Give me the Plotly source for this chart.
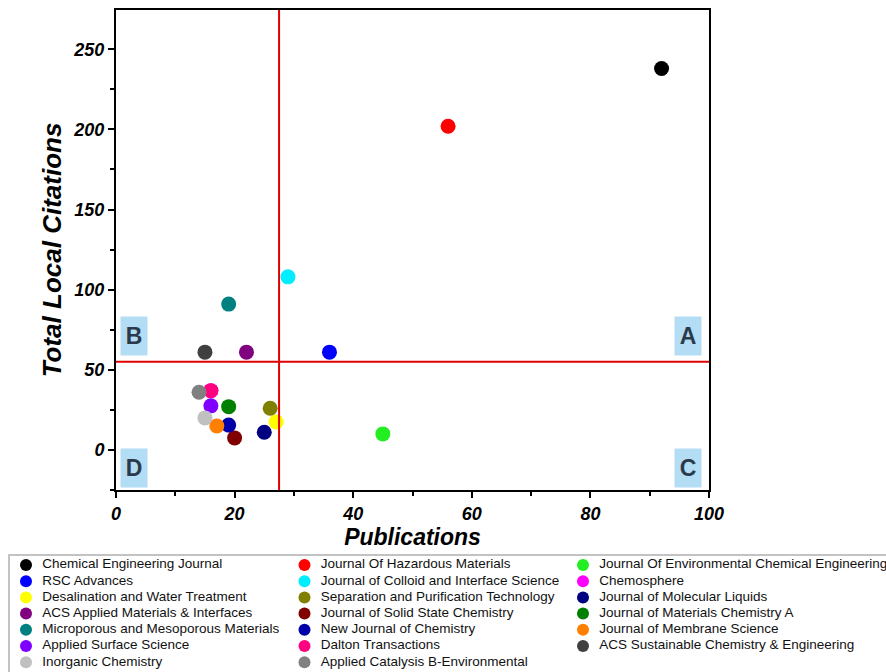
import plotly.graph_objects as go

journals = [
    "Chemical Engineering Journal", "Journal Of Hazardous Materials", "Journal Of Environmental Chemical Engineering",
    "RSC Advances", "Journal of Colloid and Interface Science", "Chemosphere",
    "Desalination and Water Treatment", "Separation and Purification Technology", "Journal of Molecular Liquids",
    "ACS Applied Materials & Interfaces", "Journal of Solid State Chemistry", "Journal of Materials Chemistry A",
    "Microporous and Mesoporous Materials", "New Journal of Chemistry", "Journal of Membrane Science",
    "Applied Surface Science", "Dalton Transactions", "ACS Sustainable Chemistry & Engineering",
    "Inorganic Chemistry", "Applied Catalysis B-Environmental",
]
publications = [92, 56, 45, 36, 29, 16, 27, 26, 25, 22, 20, 19, 19, 19, 17, 16, 16, 15, 15, 14]
citations = [238, 202, 10, 61, 108, 37, 17.5, 26, 11, 61, 7.5, 27, 91, 15.5, 15, 27.5, 37, 61, 20, 36]
colors = [
    "#000000", "#ff0000", "#22ee22", "#0000ff", "#00eeff", "#ff00ff",
    "#ffff00", "#808000", "#000080", "#800080", "#800000", "#008000",
    "#008080", "#0000aa", "#ff8000", "#8000ff", "#ff0080", "#404040",
    "#c0c0c0", "#808080",
]
x_threshold = 27.5
y_threshold = 55
quadrants = ["A", "B", "C", "D"]
quad_x = [96.5, 3, 96.5, 3]
quad_y = [71, 71, -11, -11]

W, H = 886, 672
FONT = "Liberation Sans, Arial, sans-serif"

fig = go.Figure()

# main scatter
for name, xv, yv, c in zip(journals, publications, citations, colors):
    fig.add_trace(go.Scatter(x=[xv], y=[yv], mode="markers", name=name, showlegend=False,
                             marker=dict(color=c, size=15, line=dict(width=0)),
                             xaxis="x", yaxis="y"))

# legend panel (3 columns, row-major) drawn on an auxiliary hidden axes
n_cols = 3
leg_col = [i % n_cols for i in range(len(journals))]
leg_row = [i // n_cols for i in range(len(journals))]
fig.add_trace(go.Scatter(x=leg_col, y=leg_row, mode="markers", showlegend=False,
                         marker=dict(color=colors, size=12, line=dict(width=0)),
                         xaxis="x2", yaxis="y2", hoverinfo="skip"))
fig.add_trace(go.Scatter(x=[c + 0.058 for c in leg_col], y=leg_row, mode="text", text=journals,
                         textposition="middle right", showlegend=False,
                         textfont=dict(family=FONT, size=13.5, color="#111111"),
                         xaxis="x2", yaxis="y2", hoverinfo="skip"))

# threshold lines
fig.add_shape(type="line", x0=x_threshold, x1=x_threshold, y0=0, y1=1, xref="x", yref="y domain",
              line=dict(color="#e00000", width=2))
fig.add_shape(type="line", x0=0, x1=1, xref="x domain", yref="y", y0=y_threshold, y1=y_threshold,
              line=dict(color="#e00000", width=2))

# legend frame
fig.add_shape(type="rect", xref="paper", yref="paper", x0=9 / W, x1=1.02, y0=1 - 555 / H, y1=-0.02,
              line=dict(color="#b0b0b0", width=1.5), fillcolor="rgba(0,0,0,0)", layer="below")

for q, qx, qy in zip(quadrants, quad_x, quad_y):
    fig.add_annotation(x=qx, y=qy, xref="x", yref="y", text="<b>" + q + "</b>", showarrow=False,
                       font=dict(family=FONT, size=23, color="#2b3a4a"),
                       bgcolor="#b3dcf5", borderpad=4, width=18, height=30)

fig.update_layout(
    width=W, height=H,
    margin=dict(l=0, r=0, t=0, b=0, autoexpand=False),
    plot_bgcolor="white", paper_bgcolor="white",
    showlegend=False,
    xaxis=dict(domain=[116 / W, 709 / W], anchor="y",
               range=[0, 100], dtick=20, ticks="outside", ticklen=6, tickwidth=2, tickcolor="black",
               minor=dict(dtick=10, ticks="outside", ticklen=4, tickwidth=1.5, tickcolor="black"),
               showgrid=False, zeroline=False, showline=True, linecolor="black", linewidth=2, mirror=True,
               tickfont=dict(family=FONT, size=18, color="black", weight="bold", style="italic"),
               title=dict(text="Publications", standoff=6,
                          font=dict(family=FONT, size=23, color="black", weight="bold", style="italic"))),
    yaxis=dict(domain=[1 - 490 / H, 1 - 10 / H], anchor="x",
               range=[-25, 274.5], dtick=50, ticks="outside", ticklen=6, tickwidth=2, tickcolor="black",
               minor=dict(dtick=25, ticks="outside", ticklen=4, tickwidth=1.5, tickcolor="black"),
               showgrid=False, zeroline=False, showline=True, linecolor="black", linewidth=2, mirror=True,
               tickfont=dict(family=FONT, size=18, color="black", weight="bold", style="italic"),
               title=dict(text="Total Local Citations", standoff=4,
                          font=dict(family=FONT, size=26, color="black", weight="bold", style="italic"))),
    xaxis2=dict(domain=[0, 1], anchor="y2", range=[-26 / 278.5, (W - 26) / 278.5], visible=False, fixedrange=True),
    yaxis2=dict(domain=[0, 120 / H], anchor="x2", range=[(672 - 565) / 16.2, (552 - 565) / 16.2],
                visible=False, fixedrange=True),
)
fig.write_html("out.html", config={"displayModeBar": False},
               post_script="document.body.style.margin='0';document.body.style.overflow='hidden';")
